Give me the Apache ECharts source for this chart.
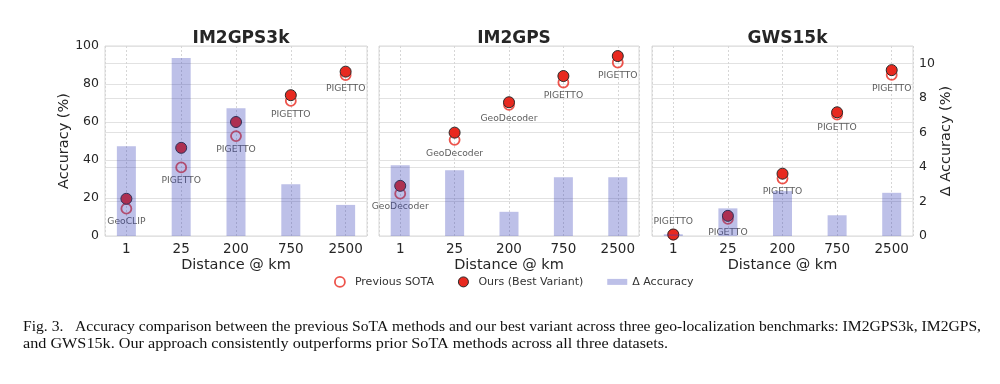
<!DOCTYPE html>
<html>
<head>
<meta charset="utf-8">
<script src="https://cdn.jsdelivr.net/npm/echarts@6/dist/echarts.min.js"></script>
<style>
html,body{margin:0;padding:0;background:#fff;}
#chart{width:1000px;height:384px;}
</style>
</head>
<body>
<div id="chart"></div>
<script>
// ---- data ----
const categories = ['1', '25', '200', '750', '2500'];
const panelTitles = ['IM2GPS3k', 'IM2GPS', 'GWS15k'];

const prevIM2GPS3k = [14.4, 36.1, 52.6, 71.1, 84.7];
const oursIM2GPS3k = [19.6, 46.4, 60.0, 74.1, 86.5];
const deltaIM2GPS3k = [5.2, 10.3, 7.4, 3.0, 1.8];
const methodsIM2GPS3k = ['GeoCLIP', 'PIGETTO', 'PIGETTO', 'PIGETTO', 'PIGETTO'];

const prevIM2GPS = [22.3, 50.6, 69.0, 80.8, 91.3];
const oursIM2GPS = [26.4, 54.4, 70.4, 84.2, 94.7];
const deltaIM2GPS = [4.1, 3.8, 1.4, 3.4, 3.4];
const methodsIM2GPS = ['GeoDecoder', 'GeoDecoder', 'GeoDecoder', 'PIGETTO', 'PIGETTO'];

const prevGWS15k = [0.7, 9.0, 30.2, 63.9, 84.8];
const oursGWS15k = [0.8, 10.6, 32.8, 65.1, 87.3];
const deltaGWS15k = [0.1, 1.6, 2.6, 1.2, 2.5];
const methodsGWS15k = ['PIGETTO', 'PIGETTO', 'PIGETTO', 'PIGETTO', 'PIGETTO'];

const accTicks = [0, 20, 40, 60, 80, 100];
const deltaTicks = [0, 2, 4, 6, 8, 10];

const captionLine1 = 'Fig. 3.   Accuracy comparison between the previous SoTA methods and our best variant across three geo-localization benchmarks: IM2GPS3k, IM2GPS,';
const captionLine2 = 'and GWS15k. Our approach consistently outperforms prior SoTA methods across all three datasets.';

// ---- build ----
const panels = [
  {prev: prevIM2GPS3k, ours: oursIM2GPS3k, delta: deltaIM2GPS3k, methods: methodsIM2GPS3k},
  {prev: prevIM2GPS, ours: oursIM2GPS, delta: deltaIM2GPS, methods: methodsIM2GPS},
  {prev: prevGWS15k, ours: oursGWS15k, delta: deltaGWS15k, methods: methodsGWS15k}
];

const gridBoxes = [
  {left: 105, width: 262},
  {left: 379, width: 260},
  {left: 652, width: 261}
];
const TOP = 46, HEIGHT = 190;
const FONT = 'DejaVu Sans';
const TXT = '#262626';
const RED = '#e8291f';
const BAR = 'rgba(55,65,185,0.33)';

const grid = [], xAxis = [], yAxis = [], series = [], title = [];

panels.forEach((p, g) => {
  const box = gridBoxes[g];
  grid.push({left: box.left, width: box.width, top: TOP, height: HEIGHT, show: true,
    borderColor: '#d9d9d9', borderWidth: 1, backgroundColor: 'transparent', containLabel: false});
  title.push({text: panelTitles[g], left: box.left + box.width / 2, top: 25, textAlign: 'center',
    textStyle: {fontFamily: FONT, fontWeight: 'bold', fontSize: 17, color: TXT}});
  xAxis.push({
    type: 'value', gridIndex: g, min: -0.39, max: 4.39, minInterval: 1, maxInterval: 1,
    name: 'Distance @ km', nameLocation: 'middle', nameGap: 22,
    nameTextStyle: {fontFamily: FONT, fontSize: 14.5, color: TXT},
    axisLine: {show: false}, axisTick: {show: false},
    axisLabel: {fontFamily: FONT, fontSize: 13.5, color: TXT, margin: 6,
      formatter: v => (Math.abs(v - Math.round(v)) < 1e-6 && categories[Math.round(v)] !== undefined) ? categories[Math.round(v)] : ''},
    splitLine: {show: true, lineStyle: {color: '#d6d6d6', type: [2, 2], width: 1}}
  });
  yAxis.push({
    type: 'value', gridIndex: g, position: 'left', min: accTicks[0], max: accTicks[accTicks.length - 1], interval: 20,
    name: g === 0 ? 'Accuracy (%)' : '', nameLocation: 'middle', nameGap: 27,
    nameTextStyle: {fontFamily: FONT, fontSize: 14.5, color: TXT},
    axisLine: {show: false}, axisTick: {show: false},
    axisLabel: {show: g === 0, fontFamily: FONT, fontSize: 12.5, color: TXT, margin: 6},
    splitLine: {show: true, lineStyle: {color: '#e2e2e2', width: 1}}
  });
  yAxis.push({
    type: 'value', gridIndex: g, position: 'right', min: 0, max: 11, interval: 2,
    name: g === 2 ? 'Δ Accuracy (%)' : '', nameLocation: 'middle', nameGap: 25, nameRotate: 90,
    nameTextStyle: {fontFamily: FONT, fontSize: 14.5, color: TXT},
    axisLine: {show: false}, axisTick: {show: false},
    axisLabel: {show: g === 2, fontFamily: FONT, fontSize: 12.5, color: TXT, margin: 6,
      formatter: v => (deltaTicks.indexOf(v) >= 0 ? String(v) : '')},
    splitLine: {show: true, lineStyle: {color: '#e2e2e2', width: 1}}
  });

  series.push({
    name: 'Previous SOTA', type: 'scatter', xAxisIndex: g, yAxisIndex: 2 * g, z: 2,
    symbol: 'circle', symbolSize: 10,
    itemStyle: {color: 'rgba(255,255,255,0)', borderColor: RED, borderWidth: 1.8},
    data: p.prev.map((v, i) => ({
      value: [i, v],
      label: {show: true, formatter: p.methods[i], position: v < 5 ? 'top' : 'bottom', distance: 3,
        fontFamily: FONT, fontSize: 9.2, color: '#333'}
    }))
  });
  series.push({
    name: 'Ours (Best Variant)', type: 'scatter', xAxisIndex: g, yAxisIndex: 2 * g, z: 3,
    symbol: 'circle', symbolSize: 11,
    itemStyle: {color: RED, borderColor: '#2a2a2a', borderWidth: 1, opacity: 1},
    data: p.ours.map((v, i) => [i, v])
  });
  series.push({
    name: 'Δ Accuracy', type: 'bar', xAxisIndex: g, yAxisIndex: 2 * g + 1, z: 4,
    barWidth: 19, itemStyle: {color: BAR},
    data: p.delta.map((v, i) => [i, v])
  });
});

// caption layout: widths matched to the reference (line 1 justified)
const CAP_FONT = '13.6px "Liberation Serif"';
const ctx = document.createElement('canvas').getContext('2d');
ctx.font = CAP_FONT;
const w1 = ctx.measureText(captionLine1).width;
const w2 = ctx.measureText(captionLine2).width;
const s1 = 958 / w1;
const s2 = 645 / w2;

const chart = echarts.init(document.getElementById('chart'), null, {renderer: 'canvas'});
chart.setOption({
  backgroundColor: '#fff',
  animation: false,
  title: title,
  grid: grid,
  xAxis: xAxis,
  yAxis: yAxis,
  series: series,
  legend: {
    left: 329, top: 271, itemWidth: 20, itemHeight: 10, itemGap: 24,
    textStyle: {fontFamily: FONT, fontSize: 11, color: '#333'},
    data: [
      {name: 'Previous SOTA', icon: 'circle', itemStyle: {color: '#fff', borderColor: RED, borderWidth: 1.8}},
      {name: 'Ours (Best Variant)', icon: 'circle', itemStyle: {color: RED, borderColor: '#2a2a2a', borderWidth: 1}},
      {name: 'Δ Accuracy', icon: 'path://M0,0H20V6H0Z', itemStyle: {color: BAR}}
    ]
  },
  graphic: [
    {type: 'text', x: 23, y: 320, scaleX: s1, style: {text: captionLine1, font: CAP_FONT, fill: '#111', verticalAlign: 'top'}},
    {type: 'text', x: 23, y: 337, scaleX: s2, style: {text: captionLine2, font: CAP_FONT, fill: '#111', verticalAlign: 'top'}}
  ]
});
</script>
</body>
</html>
